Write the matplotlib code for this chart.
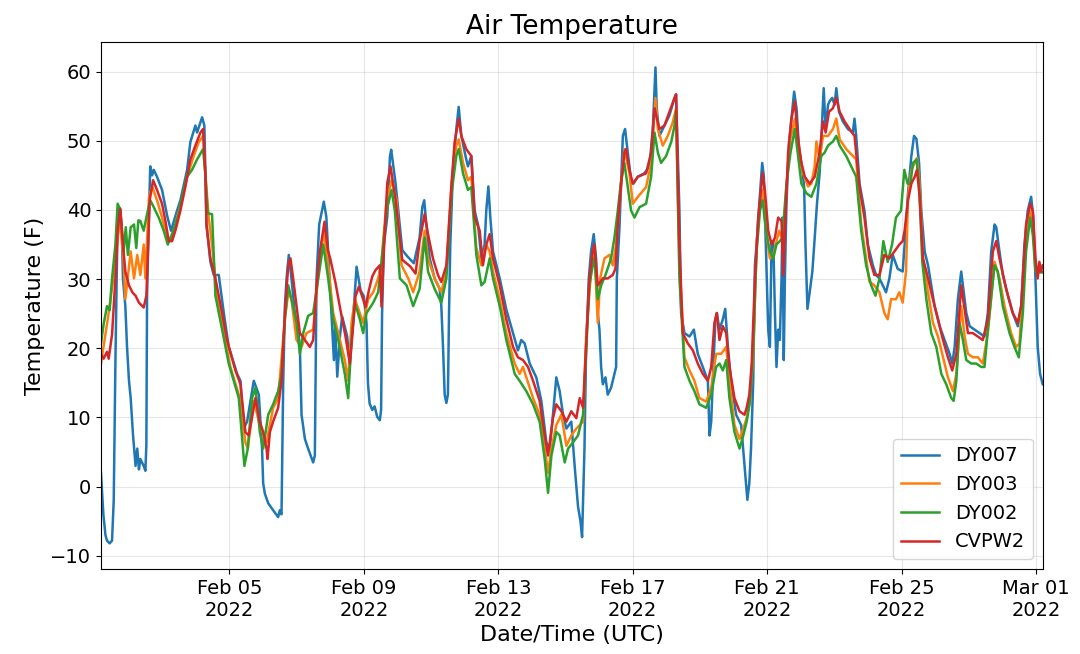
import pandas as pd
import matplotlib
matplotlib.use('Agg')
import matplotlib.pyplot as plt

start = pd.Timestamp('2022-02-01 00:00')

# hours after 2022-02-01 00:00 UTC, air temperature in F
dy007_hours = [4.3, 6.0, 7.5, 8.6, 10.5, 12.2, 13.4, 14.6, 15.5, 16.2, 17.0, 18.1, 19.3, 20.0, 21.7, 22.9, 24.3, 25.5, 27.2, 29.0,
               30.2, 31.4, 32.4, 34.8, 36.0, 36.7, 37.2, 38.6, 39.5, 40.8, 42.0, 44.3, 47.9, 51.5, 54.3, 58.6, 61.0, 65.8, 68.1, 71.7,
               72.9, 76.5, 78.1, 78.9, 79.6, 82.4, 84.8, 88.4, 92.0, 95.5, 101.5, 103.9, 106.2, 108.6, 113.4, 117.0,
               119.3, 120.1, 121.3, 123.7, 127.2, 130.8, 132.0, 133.2, 134.4, 135.6, 136.8, 138.4, 140.3, 142.7, 145.1, 146.3,
               147.5, 149.9, 152.2, 155.8, 157.0, 158.2, 160.1, 163.4, 165.2, 167.7, 169.4, 170.6, 171.5, 173.0, 174.9, 176.5,
               180.1, 181.9, 184.4, 186.8, 189.6, 192.0, 193.9, 194.9, 196.1, 198.0, 199.7, 201.5, 203.4, 204.3, 205.0, 206.3,
               208.7, 210.6, 211.5, 214.6, 219.4, 223.0, 227.7,
               231.8, 233.7, 235.1, 236.6, 239.0, 242.5, 246.1, 247.3, 248.5, 249.7, 250.9, 252.0, 252.8, 253.7, 255.6, 258.0,
               259.7, 261.6, 265.1, 266.3, 268.7, 271.1, 273.5, 275.9, 278.2, 279.4, 280.9, 282.3, 284.2, 289.0, 293.7, 298.5,
               302.0, 304.4, 306.8, 310.4, 315.1, 318.7, 322.3, 324.7, 327.0, 329.4, 331.8, 334.2, 336.6, 340.1, 342.5, 344.9,
               346.6, 347.8,
               349.5, 350.7, 352.6, 354.2, 356.1, 357.8, 359.0, 360.2, 361.4, 362.6, 364.5, 366.1, 368.5, 370.9, 372.1, 372.6,
               374.5, 376.9, 378.5, 380.4, 382.8, 384.5, 387.6, 392.3, 395.9, 398.3, 400.2, 401.1, 403.0, 406.6, 410.2, 413.8,
               414.9, 417.3, 418.5, 420.9, 424.5, 427.6, 430.4, 434.0, 437.6, 438.8, 440.0, 441.1, 443.0, 444.0, 445.9, 448.3,
               450.0, 451.9, 454.2, 457.8, 461.4, 463.8,
               465.8, 467.2, 468.4, 470.0, 471.2, 472.4, 473.6, 475.3, 476.4, 477.6, 479.1, 480.7, 481.9, 483.1, 484.3, 485.5,
               486.6, 487.8, 489.0, 490.2, 490.9, 491.8, 492.6, 493.7, 495.6, 497.3, 499.2, 500.9, 502.7, 505.1, 506.3, 507.3,
               508.7, 510.3, 512.2, 513.9, 515.5, 517.4, 519.3, 520.3, 521.7, 523.4, 524.5, 526.4, 528.1, 529.3, 531.2, 534.0,
               537.6, 541.1, 542.3, 543.5, 545.9, 549.4, 551.8, 555.4, 557.7, 560.1, 562.5, 564.8, 567.2, 569.6, 573.1, 576.7,
               578.1, 580.5, 582.9, 584.8, 586.5, 588.4, 590.0, 592.4, 594.8, 597.1, 599.5, 603.1, 606.6, 610.2, 612.1, 613.8,
               616.1, 618.5, 619.7, 622.1, 624.5, 628.0, 631.6, 635.1, 637.5, 639.9, 642.3, 643.5, 645.8, 648.2, 651.8, 655.3,
               658.9, 661.3, 663.6, 666.0, 668.4, 670.0, 671.5, 673.1, 674.8, 676.7]
dy007_temp = [2.0, -4.0, -7.0, -7.8, -8.2, -7.8, -2.0, 18.0, 30.0, 38.0, 40.4, 40.0, 36.0, 30.0, 26.1, 20.2, 15.3, 12.8, 7.4, 3.0,
              5.5, 2.5, 4.0, 3.0, 2.3, 6.0, 27.6, 40.0, 46.3, 45.0, 45.8, 44.8, 42.9, 39.2, 37.0, 39.9, 41.4, 45.8, 49.8, 52.2,
              51.2, 53.4, 52.2, 45.0, 37.9, 32.5, 30.6, 30.6, 25.1, 20.2, 16.3, 15.3, 8.4, 9.4, 15.3, 13.3,
              5.5, 0.5, -1.0, -2.4, -3.4, -4.4, -3.4, -4.0, 15.0, 26.0, 30.1, 33.5, 30.1, 25.1, 22.7, 20.2,
              10.4, 6.9, 5.5, 3.5, 4.5, 30.1, 37.9, 41.2, 39.0, 29.4, 22.6, 18.3, 23.6, 15.9, 21.7, 24.6,
              21.7, 17.8, 24.6, 31.8, 28.4, 27.5, 23.6, 15.0, 12.0, 11.1, 11.6, 10.1, 9.6, 11.1, 25.0, 35.0,
              39.0, 47.7, 48.7, 43.9, 34.2, 33.3, 32.3,
              36.0, 40.4, 41.4, 37.9, 33.0, 30.1, 28.6, 26.1, 20.2, 13.3, 12.1, 13.3, 25.1, 35.0, 45.8, 51.7,
              54.9, 50.7, 47.3, 46.3, 47.8, 39.9, 37.9, 33.0, 35.0, 39.9, 43.4, 38.9, 34.0, 30.1, 25.6, 22.2,
              19.7, 21.2, 20.7, 17.8, 15.8, 12.4, 6.4, 5.5, 10.4, 15.8, 13.8, 10.4, 8.4, 9.4, 3.0, -2.9,
              -4.9, -7.3,
              5.5, 20.2, 30.1, 34.0, 36.5, 33.0, 25.1, 22.7, 17.3, 14.8, 15.8, 13.3, 14.3, 16.3, 17.3, 30.1,
              37.5, 50.7, 51.7, 48.3, 44.3, 43.8, 44.8, 45.3, 46.3, 51.7, 60.6, 54.7, 50.7, 52.2, 53.7, 56.2,
              56.7, 39.9, 25.1, 22.2, 21.7, 22.7, 19.2, 17.3, 15.3, 7.4, 9.4, 15.3, 24.2, 25.1, 22.7, 24.2,
              25.7, 20.2, 15.3, 10.4, 8.9, 3.0,
              -1.9, 0.5, 5.5, 15.3, 32.0, 35.0, 38.9, 43.8, 46.8, 44.8, 34.0, 22.7, 20.2, 35.5, 35.5, 25.1,
              17.3, 22.7, 21.2, 30.1, 38.9, 18.3, 30.1, 40.9, 49.8, 53.2, 57.1, 54.7, 48.8, 45.8, 43.4, 35.0,
              25.7, 28.1, 31.1, 36.0, 40.9, 45.3, 53.2, 57.6, 51.7, 55.2, 55.7, 56.2, 55.2, 57.6, 54.2, 52.8,
              51.7, 51.2, 53.2, 50.7, 43.8, 39.9, 35.0, 32.0, 30.6, 30.1, 29.1, 28.1, 30.1, 33.5, 31.5, 31.1,
              35.0, 42.4, 47.8, 50.7, 50.3, 46.8, 39.9, 34.0, 32.0, 29.1, 26.1, 23.2, 21.2, 19.2, 17.8, 20.2,
              27.1, 31.1, 29.1, 25.1, 23.2, 22.7, 22.2, 21.7, 25.1, 34.0, 37.9, 37.5, 34.0, 30.6, 27.6, 25.1,
              23.2, 26.1, 35.0, 39.9, 41.9, 38.9, 30.1, 20.2, 16.3, 14.8]

dy003_hours = [4.3, 9.8, 14.6, 17.7, 20.5, 21.7, 25.5, 27.9, 30.2, 32.4, 34.8, 36.0, 38.6, 40.8, 44.3, 47.9, 51.5, 55.0, 58.6, 62.2,
               65.8, 70.5, 74.1, 77.2, 78.9, 81.2, 83.6, 87.2, 92.0, 96.7, 102.7, 107.4, 109.1, 113.4,
               117.7, 122.5, 127.2, 130.8, 135.6, 138.0, 140.3, 143.9, 147.5, 151.0, 155.8, 159.4, 163.4, 166.5, 170.1, 173.7,
               178.4, 180.8, 183.2, 185.6, 189.1, 191.5, 195.1, 198.7, 202.2, 204.6, 208.2, 211.8, 215.3, 218.9, 223.7, 227.2,
               231.8, 235.4, 237.8, 242.5, 247.3, 250.9, 254.6, 258.0, 259.7, 262.8, 266.3, 268.7, 272.3, 275.9, 279.4, 281.8,
               284.2, 289.0, 293.7, 299.7, 303.2, 305.6, 308.0, 312.8, 317.5, 321.1, 323.5, 325.9, 329.4, 333.0, 336.6, 340.1,
               343.7, 348.5,
               350.7, 354.2, 356.6, 359.0, 360.7, 363.8, 367.3, 369.7, 372.1, 375.7, 378.0, 381.6, 384.0, 387.6, 393.5, 397.1,
               400.2, 401.9, 405.4, 409.0, 412.6, 414.9, 417.3, 420.9, 424.5, 428.0, 431.6, 436.4, 440.0, 443.5, 447.1, 450.7,
               453.0, 456.6, 460.2,
               462.9, 465.3, 467.7, 470.0, 472.4, 474.8, 476.7, 479.1, 481.9, 484.3, 486.6, 488.5, 490.2, 492.6, 496.1, 499.7,
               502.0, 505.6, 509.1, 511.5, 513.9, 515.1, 517.4, 519.8, 523.4, 526.9, 529.3, 531.7, 536.4, 541.1, 543.5, 547.1,
               550.6, 553.0, 556.5, 560.1, 563.6, 566.0, 568.4, 571.9, 574.3, 576.7, 579.1,
               580.5, 582.9, 585.3, 586.9, 588.8, 591.2, 594.8, 598.3, 601.9, 605.5, 609.0, 612.6, 615.0, 618.5, 620.9, 623.3,
               626.8, 630.4, 633.9, 637.5, 642.3, 645.8, 649.4, 654.1, 657.7, 660.1, 663.6, 667.7, 669.6, 672.0, 674.3, 676.7]
dy003_temp = [17.8, 25.1, 32.5, 38.9, 32.5, 27.1, 34.0, 30.1, 33.5, 30.6, 35.0, 30.1, 41.9, 43.4, 41.4, 38.9, 36.0, 35.5, 38.9, 41.4,
              44.8, 47.8, 49.8, 50.7, 45.0, 38.9, 35.0, 27.6, 22.2, 17.3, 13.3, 6.4, 5.5, 12.4,
              8.9, 6.4, 11.4, 12.8, 24.2, 28.1, 27.1, 21.2, 20.2, 22.2, 22.7, 30.6, 37.0, 32.0, 25.1, 22.2,
              18.3, 15.3, 23.7, 27.1, 25.1, 23.7, 27.1, 28.1, 30.1, 32.5, 41.4, 44.3, 41.4, 32.0, 30.1, 28.1,
              31.1, 37.0, 33.0, 30.1, 28.1, 31.1, 43.8, 49.3, 50.2, 46.8, 44.3, 44.8, 34.5, 32.0, 35.0, 34.0,
              31.1, 27.1, 22.2, 17.8, 16.3, 17.3, 15.8, 12.8, 10.4, 5.5, 2.0, 5.5, 8.9, 10.4, 5.9, 7.4,
              8.4, 9.4,
              21.7, 31.1, 34.0, 23.7, 30.1, 33.0, 33.5, 32.0, 35.0, 43.8, 48.8, 45.3, 40.9, 41.9, 43.3, 46.8,
              56.2, 51.7, 49.3, 50.7, 52.7, 54.7, 32.5, 18.7, 16.8, 15.3, 12.8, 12.3, 14.3, 19.2, 19.2, 20.2,
              15.3, 8.9, 6.9,
              8.4, 9.9, 12.4, 19.2, 35.0, 40.9, 42.9, 37.0, 33.0, 33.5, 35.5, 37.0, 36.0, 39.9, 49.9, 53.2,
              49.3, 45.3, 43.4, 43.8, 46.3, 49.9, 47.3, 50.7, 50.7, 51.7, 53.2, 50.2, 48.8, 47.8, 47.3, 37.9,
              33.0, 29.6, 29.1, 28.1, 25.1, 24.2, 27.1, 27.1, 28.1, 26.6, 31.1,
              41.9, 45.8, 46.8, 47.5, 43.8, 33.0, 28.1, 23.7, 21.7, 18.7, 15.8, 13.8, 16.3, 26.1, 21.7, 19.2,
              18.7, 18.7, 17.8, 22.2, 32.5, 30.1, 26.1, 22.2, 20.2, 20.7, 33.0, 39.9, 37.0, 31.1, 31.0, 31.0]

dy002_hours = [4.3, 6.2, 8.6, 10.5, 12.2, 14.6, 16.2, 18.1, 19.3, 20.5, 22.0, 23.5, 25.5, 27.9, 29.5, 31.0, 32.4, 34.8, 37.2, 39.5,
               42.0, 45.5, 49.1, 52.0, 55.0, 59.8, 62.2, 65.8, 69.3, 72.9, 77.2, 78.9, 80.5, 83.6, 86.0, 90.8, 95.5, 102.7,
               106.7, 109.1, 112.2, 114.6,
               117.7, 120.1, 123.7, 127.2, 130.8, 133.2, 135.6, 138.0, 140.3, 143.9, 146.3, 148.7, 152.2, 155.8, 159.4, 163.0,
               166.5, 170.1, 173.7, 178.4, 180.8, 183.2, 185.6, 189.1, 191.5, 193.9, 198.7, 202.2, 204.6, 208.2, 211.8, 214.1,
               217.7, 222.5, 227.2,
               231.8, 235.4, 237.8, 242.5, 247.3, 250.9, 254.6, 258.0, 259.7, 262.8, 266.3, 268.7, 272.3, 275.9, 278.2, 281.8,
               284.2, 289.0, 293.7, 299.7, 303.2, 308.0, 312.8, 317.5, 321.1, 323.5, 325.9, 329.4, 331.8, 335.4, 337.8, 341.3,
               344.9, 348.5,
               353.0, 355.4, 356.6, 359.0, 361.4, 364.5, 368.5, 370.9, 373.3, 375.7, 378.0, 380.4, 382.8, 385.2, 388.8, 393.5,
               397.1, 399.5, 401.9, 404.2, 407.8, 411.4, 413.8, 414.9, 417.3, 420.9, 424.5, 428.0, 431.6, 436.4, 440.0, 443.5,
               445.9, 448.3, 450.7, 453.0, 456.6, 460.2,
               462.9, 465.3, 467.7, 470.0, 472.4, 474.8, 476.7, 479.1, 481.9, 484.3, 486.6, 489.0, 490.9, 493.7, 496.6, 499.7,
               502.0, 504.4, 508.0, 511.5, 515.1, 518.6, 521.0, 523.4, 526.9, 529.3, 531.7, 536.4, 541.1, 543.5, 547.1, 550.6,
               554.2, 557.3, 560.1, 562.9, 566.0, 569.1, 571.9, 575.5, 577.9, 580.2,
               582.2, 584.1, 586.5, 588.4, 590.7, 593.6, 597.1, 600.7, 604.3, 607.8, 611.4, 613.1, 615.0, 617.3, 619.7, 622.1,
               625.6, 629.2, 632.8, 635.1, 637.5, 642.3, 644.6, 648.2, 653.0, 656.5, 659.6, 662.5, 664.8, 667.7, 669.6, 671.5,
               674.3, 676.7]
dy002_temp = [20.7, 23.5, 26.1, 25.5, 30.1, 35.0, 40.9, 40.0, 37.0, 34.0, 37.5, 33.5, 37.5, 37.9, 34.5, 38.5, 38.4, 37.0, 39.4, 41.4,
              40.4, 38.9, 37.0, 35.0, 36.5, 39.4, 41.9, 44.8, 45.8, 47.3, 48.8, 45.0, 39.5, 39.4, 27.6, 22.7, 17.8, 12.8,
              3.0, 5.5, 12.8, 14.3,
              7.9, 5.5, 10.4, 11.9, 13.8, 16.3, 24.2, 29.1, 27.1, 23.7, 19.2, 22.2, 24.7, 25.1, 30.1, 35.0,
              30.1, 24.2, 21.2, 16.3, 12.8, 21.2, 26.6, 24.2, 22.2, 25.1, 26.6, 28.1, 32.5, 39.9, 42.9, 39.9,
              30.1, 29.1, 26.1,
              28.6, 36.0, 31.1, 28.6, 26.6, 30.1, 42.4, 47.8, 48.8, 45.3, 42.9, 43.3, 33.5, 29.1, 29.6, 33.0,
              30.1, 26.1, 21.2, 16.3, 15.3, 13.8, 11.9, 9.4, 4.0, -0.9, 4.5, 7.9, 7.4, 3.5, 5.5, 6.4,
              7.4, 10.4,
              29.1, 32.0, 33.0, 27.1, 29.1, 30.6, 33.0, 36.0, 39.9, 44.3, 46.8, 43.3, 39.9, 38.9, 40.4, 40.9,
              44.8, 51.2, 48.3, 46.8, 47.8, 49.8, 52.2, 54.2, 30.1, 17.3, 15.3, 13.8, 11.9, 11.4, 13.3, 17.3,
              17.8, 16.8, 18.3, 12.8, 7.9, 5.5,
              7.4, 9.4, 12.4, 20.2, 34.0, 39.9, 41.4, 37.0, 34.0, 33.0, 35.0, 35.5, 36.0, 43.8, 48.3, 51.7,
              47.8, 43.8, 42.4, 41.9, 43.8, 47.8, 48.3, 49.3, 49.9, 50.7, 49.3, 47.8, 45.8, 44.8, 37.0, 32.0,
              29.1, 27.6, 30.1, 35.5, 32.5, 35.0, 38.9, 39.9, 45.8, 43.8,
              43.8, 46.8, 47.3, 43.8, 32.5, 27.1, 22.2, 20.2, 16.3, 14.8, 12.8, 12.4, 15.3, 23.7, 21.2, 18.3,
              17.8, 17.8, 17.3, 17.3, 22.7, 32.0, 31.1, 26.1, 22.2, 20.2, 18.7, 25.1, 34.0, 38.9, 36.5, 31.1,
              31.0, 31.0]

cvpw2_hours = [4.3, 6.2, 8.6, 9.8, 12.2, 14.6, 16.2, 18.1, 19.3, 20.0, 21.7, 24.3, 26.7, 29.0, 31.4, 34.8, 36.7, 39.1, 41.5, 44.3,
               47.9, 50.3, 52.7, 55.0, 57.4, 61.0, 64.6, 68.1, 71.7, 75.3, 77.2, 78.9, 79.6, 82.4, 86.0, 90.8, 94.3, 100.3,
               103.9, 107.4, 109.8, 114.6,
               117.7, 120.1, 122.5, 123.2, 124.9, 127.2, 130.8, 133.2, 135.6, 138.0, 139.6, 141.5, 143.9, 146.3, 149.9, 153.4,
               155.8, 158.2, 160.6, 163.9, 166.3, 168.2, 171.8, 175.3, 178.9, 182.0, 183.7, 186.0, 188.4, 190.8, 193.2, 195.6,
               198.0, 200.3, 203.4, 204.6, 206.3, 208.7, 211.0, 214.6, 219.4, 225.3, 228.9,
               231.8, 235.4, 237.8, 241.3, 244.9, 247.3, 250.9, 254.6, 256.8, 259.7, 261.6, 265.1, 268.7, 271.1, 274.7, 277.0,
               279.4, 281.8, 284.2, 289.0, 293.7, 298.5, 302.0, 305.6, 309.2, 312.8, 317.5, 321.1, 323.5, 327.0, 329.4, 333.0,
               336.6, 340.1, 343.7, 346.1, 348.5,
               353.0, 355.4, 356.6, 359.0, 362.6, 366.1, 369.7, 371.6, 373.3, 375.7, 378.0, 379.2, 381.6, 384.0, 387.6, 393.5,
               397.1, 399.5, 400.7, 403.0, 406.6, 410.2, 413.8, 414.9, 417.3, 419.7, 423.3, 426.9, 430.4, 434.0, 437.6, 440.0,
               442.3, 444.0, 445.9, 448.3, 450.7, 453.0, 456.6, 460.2, 463.8,
               465.3, 467.2, 468.9, 471.2, 473.6, 476.7, 478.3, 480.7, 483.1, 485.5, 487.8, 490.2, 491.4, 492.6, 494.9, 497.3,
               499.7, 502.0, 504.4, 506.8, 510.3, 513.9, 517.4, 519.8, 521.7, 524.1, 526.9, 529.3, 531.7, 535.2, 538.8, 542.3,
               545.9, 549.4, 553.0, 556.5, 560.1, 563.6, 567.2, 570.8, 574.3, 576.7,
               578.1, 580.5, 582.9, 585.3, 586.9, 588.8, 591.2, 594.8, 598.3, 601.9, 605.5, 609.0, 612.1, 615.0, 618.5, 620.9,
               623.3, 626.8, 630.4, 633.9, 637.5, 641.1, 643.5, 645.8, 650.6, 655.3, 658.9, 661.3, 664.8, 667.7, 669.6, 671.5,
               673.1, 674.3, 675.5, 676.7]
cvpw2_temp = [19.2, 18.5, 19.5, 18.5, 22.0, 30.1, 37.0, 40.2, 37.0, 35.0, 31.1, 29.1, 28.1, 27.6, 26.6, 25.9, 27.6, 41.4, 44.3, 42.9,
              40.9, 38.4, 35.5, 35.5, 37.0, 39.9, 43.4, 47.3, 49.3, 51.2, 51.7, 45.0, 37.9, 33.0, 30.1, 25.1, 21.2, 16.8,
              14.8, 7.9, 7.4, 12.8,
              9.4, 7.9, 5.5, 4.0, 7.9, 9.4, 11.4, 15.3, 25.1, 32.0, 33.0, 30.1, 26.1, 22.2, 21.2, 20.2,
              21.2, 29.1, 34.0, 38.3, 34.2, 32.8, 29.4, 25.5, 21.7, 17.8, 21.7, 27.5, 28.9, 27.5, 26.0, 28.4,
              30.4, 31.3, 32.0, 26.0, 34.2, 43.9, 46.3, 41.5, 32.8, 31.8, 30.8,
              35.5, 39.4, 36.5, 33.0, 30.6, 29.6, 32.0, 43.8, 49.8, 53.2, 50.7, 48.8, 47.8, 38.9, 37.0, 32.0,
              35.0, 36.5, 33.0, 29.1, 24.2, 20.2, 18.7, 18.3, 17.3, 15.3, 12.4, 7.4, 4.5, 9.9, 11.9, 10.9,
              9.4, 10.9, 9.9, 12.8, 11.4,
              30.1, 34.0, 35.0, 29.1, 30.1, 30.1, 30.6, 31.5, 37.9, 43.8, 48.3, 48.8, 45.8, 43.8, 44.8, 45.3,
              48.3, 54.7, 53.7, 51.7, 52.2, 54.2, 56.2, 56.7, 35.0, 22.2, 20.7, 19.7, 17.8, 16.3, 15.3, 17.3,
              23.7, 25.1, 21.2, 23.2, 22.2, 17.3, 12.8, 10.9, 10.4,
              11.4, 13.3, 17.8, 30.1, 38.9, 45.3, 42.9, 37.0, 35.0, 36.0, 38.9, 38.4, 30.6, 37.0, 48.3, 53.2,
              55.7, 50.3, 46.8, 44.8, 43.8, 44.8, 48.3, 52.8, 51.2, 54.2, 54.7, 56.2, 54.2, 52.8, 51.7, 50.7,
              43.3, 38.9, 33.0, 30.6, 30.6, 33.5, 33.0, 34.0, 35.0, 35.5,
              37.0, 41.4, 43.8, 44.8, 45.8, 41.9, 33.0, 30.1, 27.1, 24.2, 21.2, 18.7, 16.8, 19.2, 29.1, 25.6,
              22.2, 22.2, 21.7, 21.2, 24.2, 34.0, 35.5, 33.0, 28.6, 25.1, 23.7, 26.1, 37.9, 40.9, 39.9, 33.0,
              30.1, 32.5, 31.1, 32.0]

stations = ['DY007', 'DY003', 'DY002', 'CVPW2']
colors = ['#1f77b4', '#ff7f0e', '#2ca02c', '#d62728']
series = [(dy007_hours, dy007_temp), (dy003_hours, dy003_temp),
          (dy002_hours, dy002_temp), (cvpw2_hours, cvpw2_temp)]

fig = plt.figure(figsize=(10.8, 6.54), dpi=100)
ax = fig.add_axes([0.0935, 0.130, 0.872, 0.806])

for name, col, (hrs, temp) in zip(stations, colors, series):
    t = start + pd.to_timedelta(hrs, unit='h')
    ax.plot(t, temp, color=col, lw=1.8, label=name)

ax.set_xlim(start + pd.Timedelta(hours=4.3), start + pd.Timedelta(hours=676.7))
ax.set_ylim(-11.9, 64.3)
ax.set_yticks(range(-10, 61, 10))
ticks = pd.date_range('2022-02-05', '2022-03-01', freq='4D')
ax.set_xticks(ticks)
ax.set_xticklabels([d.strftime('%b %d\n%Y') for d in ticks])
ax.tick_params(labelsize=14)
ax.grid(True, alpha=0.3)

ax.set_title('Air Temperature', fontsize=19)
ax.set_xlabel('Date/Time (UTC)', fontsize=16)
ax.set_ylabel('Temperature (F)', fontsize=16)
ax.legend(loc='lower right', fontsize=14)

fig.savefig('out.png', dpi=100)
